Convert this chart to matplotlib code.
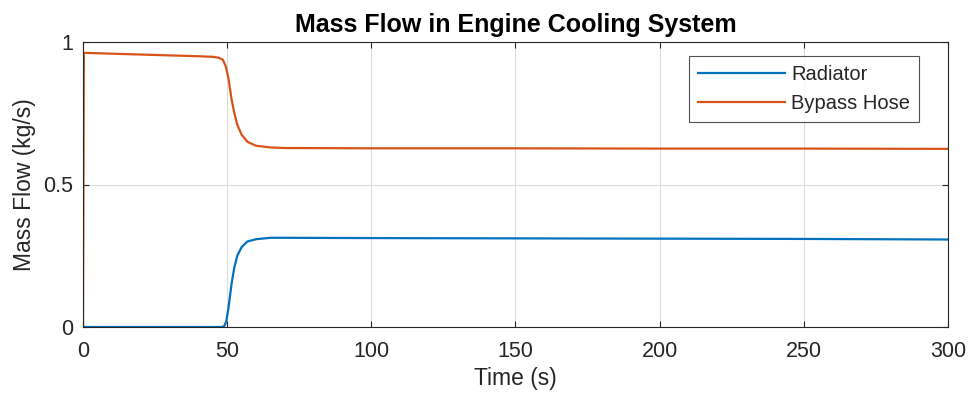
import matplotlib
matplotlib.use('Agg')
import matplotlib.pyplot as plt

plt.rcParams['font.family'] = ['Liberation Sans', 'DejaVu Sans']

# data
time_bypass = [0, 0.3, 10, 20, 30, 40, 45, 47, 48.5, 49.5, 50.5, 51.5, 52.5, 53.5,
               55, 57, 60, 65, 70, 100, 150, 200, 250, 300]
flow_bypass = [0, 0.962, 0.959, 0.956, 0.953, 0.950, 0.948, 0.945, 0.938, 0.915,
               0.87, 0.80, 0.75, 0.71, 0.675, 0.65, 0.636, 0.630, 0.628, 0.627,
               0.627, 0.626, 0.626, 0.625]
time_radiator = [0, 48, 49, 49.7, 50.5, 51.5, 52.5, 53.5, 55, 57, 60, 65, 70,
                 100, 150, 200, 250, 300]
flow_radiator = [0, 0, 0.003, 0.02, 0.07, 0.15, 0.21, 0.25, 0.28, 0.30, 0.308,
                 0.313, 0.313, 0.312, 0.311, 0.31, 0.309, 0.307]
x_ticks = [0, 50, 100, 150, 200, 250, 300]
y_ticks = [0, 0.5, 1]
y_tick_labels = ['0', '0.5', '1']

fig = plt.figure(figsize=(9.73, 4.0), dpi=100)
ax = fig.add_axes([0.0853, 0.1825, 0.889, 0.7125])

ax.plot(time_radiator, flow_radiator, color='#0072BD', lw=1.6, label='Radiator')
ax.plot(time_bypass, flow_bypass, color='#D95319', lw=1.6, label='Bypass Hose')

ax.set_xlim(0, 300)
ax.set_ylim(0, 1)
ax.set_xticks(x_ticks)
ax.set_yticks(y_ticks)
ax.set_yticklabels(y_tick_labels)
ax.grid(True, color='#dcdcdc', lw=0.8)
ax.set_axisbelow(True)

ax.tick_params(direction='in', top=True, right=True, length=4, width=0.8,
               labelsize=15.5, colors='#262626')
ax.tick_params(axis='x', pad=10)
ax.tick_params(axis='y', pad=7)
for s in ax.spines.values():
    s.set_color('#262626')
    s.set_linewidth(0.8)

ax.set_xlabel('Time (s)', fontsize=16.5, color='#262626', labelpad=4)
ax.set_ylabel('Mass Flow (kg/s)', fontsize=16.5, color='#262626', labelpad=5)
ax.set_title('Mass Flow in Engine Cooling System', fontsize=18, fontweight='bold',
             color='black', pad=7)

leg = ax.legend(loc='upper right', bbox_to_anchor=(0.9665, 0.951), borderaxespad=0,
                fontsize=14.5, frameon=True, fancybox=False, edgecolor='#262626',
                handlelength=4.3, handletextpad=0.3, borderpad=0.45, labelspacing=0.5)
leg.get_frame().set_linewidth(0.8)
for t in leg.get_texts():
    t.set_color('#262626')

fig.savefig('out.png', dpi=100)
